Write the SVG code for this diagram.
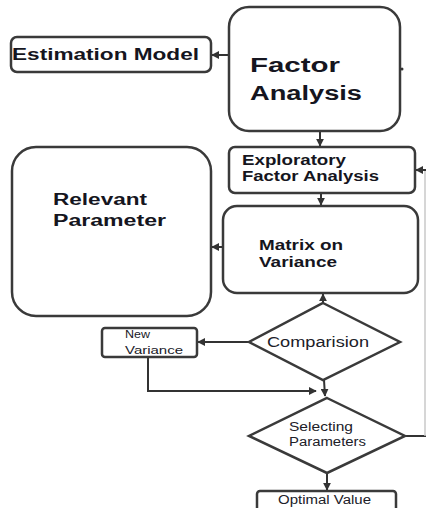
<svg xmlns="http://www.w3.org/2000/svg" width="426" height="508" viewBox="0 0 426 508">
<defs>
<style>
.box{fill:#fff;stroke:#3a3a3a;stroke-width:2.5}
.ln{fill:none;stroke:#333;stroke-width:2}
.b{font-family:"Liberation Sans",Arial,sans-serif;font-weight:bold;fill:#151520}
.r{font-family:"Liberation Sans",Arial,sans-serif;fill:#202028}
</style>
<marker id="ah" viewBox="0 0 10 10" refX="9" refY="5" markerWidth="4" markerHeight="4" orient="auto" markerUnits="strokeWidth">
<path d="M0,0 L10,5 L0,10 z" fill="#333"/>
</marker>
</defs>
<rect width="426" height="508" fill="#fff"/>
<g id="connectors">
<line class="ln" x1="229" y1="55" x2="212" y2="55" marker-end="url(#ah)"/>
<line class="ln" x1="320" y1="131" x2="320" y2="146" marker-end="url(#ah)"/>
<line class="ln" x1="321" y1="193" x2="321" y2="205" marker-end="url(#ah)"/>
<line class="ln" x1="223" y1="247" x2="212" y2="247" marker-end="url(#ah)"/>
<line class="ln" x1="323" y1="303" x2="323" y2="294" marker-end="url(#ah)"/>
<line class="ln" x1="249" y1="342" x2="198" y2="342" marker-end="url(#ah)"/>
<polyline class="ln" points="148,357 148,391 316,391" marker-end="url(#ah)"/>
<line class="ln" x1="324" y1="380" x2="325" y2="396" marker-end="url(#ah)"/>
<line class="ln" x1="327" y1="473" x2="327" y2="490" marker-end="url(#ah)"/>
<line class="ln" x1="405" y1="436" x2="426" y2="436"/>
<line x1="425" y1="436" x2="425" y2="170" stroke="#c8c8c8" stroke-width="1.5"/>
<line class="ln" x1="426" y1="170" x2="416" y2="170" marker-end="url(#ah)" stroke-width="1.5"/>
</g>
<g id="factor-analysis">
<rect class="box" x="229" y="7" width="171" height="124" rx="20"/>
<text class="b" x="250" y="72" font-size="20" textLength="90" lengthAdjust="spacingAndGlyphs">Factor</text>
<text class="b" x="250" y="100" font-size="20" textLength="112" lengthAdjust="spacingAndGlyphs">Analysis</text>
<circle cx="402" cy="69" r="1.5" fill="#333"/>
</g>
<g id="estimation-model">
<rect class="box" x="11" y="37" width="200" height="35" rx="6"/>
<text class="b" x="12" y="60" font-size="17" textLength="187" lengthAdjust="spacingAndGlyphs">Estimation Model</text>
</g>
<g id="efa">
<rect class="box" x="229" y="147" width="186" height="46" rx="6"/>
<text class="b" x="242" y="165" font-size="14" textLength="104" lengthAdjust="spacingAndGlyphs">Exploratory</text>
<text class="b" x="242" y="181" font-size="14" textLength="137" lengthAdjust="spacingAndGlyphs">Factor Analysis</text>
</g>
<g id="matrix-on-variance">
<rect class="box" x="223" y="206" width="195" height="87" rx="14"/>
<text class="b" x="259" y="250" font-size="14" textLength="84" lengthAdjust="spacingAndGlyphs">Matrix on</text>
<text class="b" x="259" y="267" font-size="14" textLength="78" lengthAdjust="spacingAndGlyphs">Variance</text>
</g>
<g id="relevant-parameter">
<rect class="box" x="12" y="147" width="199" height="169" rx="24"/>
<text class="b" x="53" y="205" font-size="16" textLength="94" lengthAdjust="spacingAndGlyphs">Relevant</text>
<text class="b" x="53" y="226" font-size="16" textLength="113" lengthAdjust="spacingAndGlyphs">Parameter</text>
</g>
<g id="comparision">
<polygon class="box" points="323,303 400,342 323,380 249,342"/>
<text class="r" x="267" y="347" font-size="14" textLength="102" lengthAdjust="spacingAndGlyphs">Comparision</text>
</g>
<g id="new-variance">
<rect class="box" x="102" y="328" width="95" height="29" rx="3"/>
<text class="r" x="125" y="338" font-size="11" textLength="25" lengthAdjust="spacingAndGlyphs">New</text>
<text class="r" x="125" y="354" font-size="11" textLength="58" lengthAdjust="spacingAndGlyphs">Variance</text>
</g>
<g id="selecting-parameters">
<polygon class="box" points="327,398 405,436 327,473 249,436"/>
<text class="r" x="289" y="431" font-size="12" textLength="64" lengthAdjust="spacingAndGlyphs">Selecting</text>
<text class="r" x="289" y="446" font-size="12" textLength="77" lengthAdjust="spacingAndGlyphs">Parameters</text>
</g>
<g id="optimal-value">
<rect class="box" x="257" y="491" width="139" height="22" rx="3"/>
<text class="r" x="278" y="504" font-size="12" textLength="93" lengthAdjust="spacingAndGlyphs">Optimal Value</text>
</g>
</svg>
